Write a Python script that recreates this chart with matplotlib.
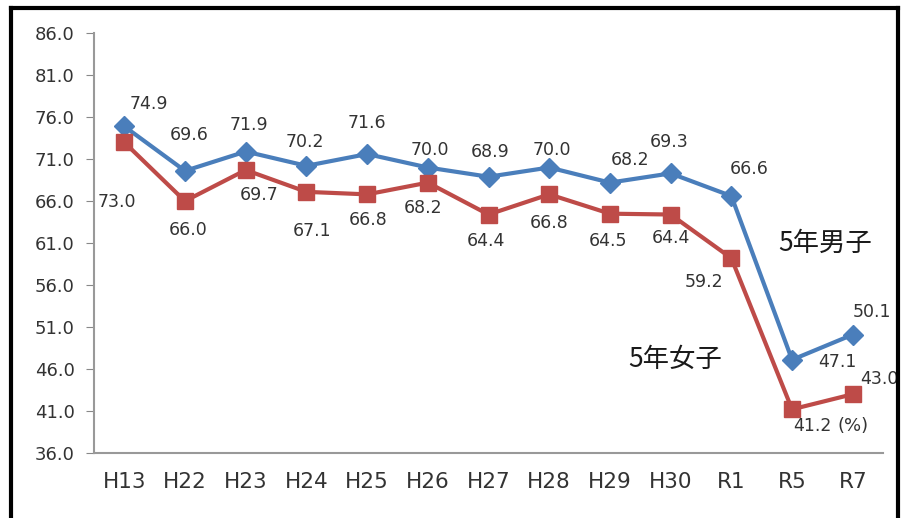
import matplotlib.pyplot as plt
from matplotlib.lines import Line2D

# === Data ===
years = ["H13", "H22", "H23", "H24", "H25", "H26", "H27", "H28", "H29", "H30", "R1", "R5", "R7"]
boys = [74.9, 69.6, 71.9, 70.2, 71.6, 70.0, 68.9, 70.0, 68.2, 69.3, 66.6, 47.1, 50.1]
girls = [73.0, 66.0, 69.7, 67.1, 66.8, 68.2, 64.4, 66.8, 64.5, 64.4, 59.2, 41.2, 43.0]
yticks = [36, 41, 46, 51, 56, 61, 66, 71, 76, 81, 86]

# label offsets in pixels (dx, dy) relative to each marker
boys_off = [(25, 22), (4, 36), (3, 27), (-2, 24), (0, 31), (2, 18), (2, 25), (3, 18),
            (20, 23), (-2, 31), (18, 27), (45, -2), (19, 23)]
girls_off = [(-7, -60), (3, -29), (13, -25), (6, -39), (1, -26), (-5, -25), (-3, -26), (0, -29),
             (-2, -27), (0, -23), (-27, -24), (20, -17), (27, 15)]

blue = "#4A7EBB"
red = "#BE4B48"
txt = "#333333"

plt.rcParams["font.family"] = ["DejaVu Sans", "Noto Sans CJK JP"]

fig = plt.figure(figsize=(9.03, 5.18), dpi=100)
ax = fig.add_axes([0.104, 0.1255, 0.874, 0.8105])

x = list(range(len(years)))
ax.plot(x, boys, color=blue, lw=3, marker="D", ms=10, zorder=3)
ax.plot(x, girls, color=red, lw=3, marker="s", ms=11, zorder=3)

for i, v in enumerate(boys):
    ax.annotate(f"{v:.1f}", (i, v), xytext=boys_off[i], textcoords="offset pixels",
                ha="center", va="center", fontsize=12.5, color=txt)
for i, v in enumerate(girls):
    ax.annotate(f"{v:.1f}", (i, v), xytext=girls_off[i], textcoords="offset pixels",
                ha="center", va="center", fontsize=12.5, color=txt)

# unit label, left-aligned just after the 41.2 label
ax.annotate("(%)", (11, 41.2), xytext=(45, -17), textcoords="offset pixels",
            ha="left", va="center", fontsize=13, color=txt)

ax.text(11.55, 61.0, "5年男子", fontsize=19, ha="center", va="center",
        family=["Noto Sans CJK JP"], color="#1a1a1a")
ax.text(9.07, 47.1, "5年女子", fontsize=19, ha="center", va="center",
        family=["Noto Sans CJK JP"], color="#1a1a1a")

ax.set_xlim(-0.5, 12.5)
ax.set_ylim(36, 86)
ax.set_yticks(yticks)
ax.set_yticklabels([f"{t:.1f}" for t in yticks], fontsize=13, color=txt)
ax.set_xticks(x)
ax.set_xticklabels(years, fontsize=15.5, color=txt)
ax.tick_params(axis="x", length=0, pad=14)
ax.tick_params(axis="y", length=6, color="#888888", pad=8)
for s in ["top", "right"]:
    ax.spines[s].set_visible(False)
for s in ["left", "bottom"]:
    ax.spines[s].set_color("#999999")
    ax.spines[s].set_linewidth(1.5)

# outer frame
kw = dict(color="black", lw=3, transform=fig.transFigure)
fig.add_artist(Line2D([0.012, 0.012], [0, 0.985], **kw))
fig.add_artist(Line2D([0.012, 0.994], [0.985, 0.985], **kw))
fig.add_artist(Line2D([0.994, 0.994], [0, 0.985], **kw))

plt.savefig("out.png", dpi=100)
